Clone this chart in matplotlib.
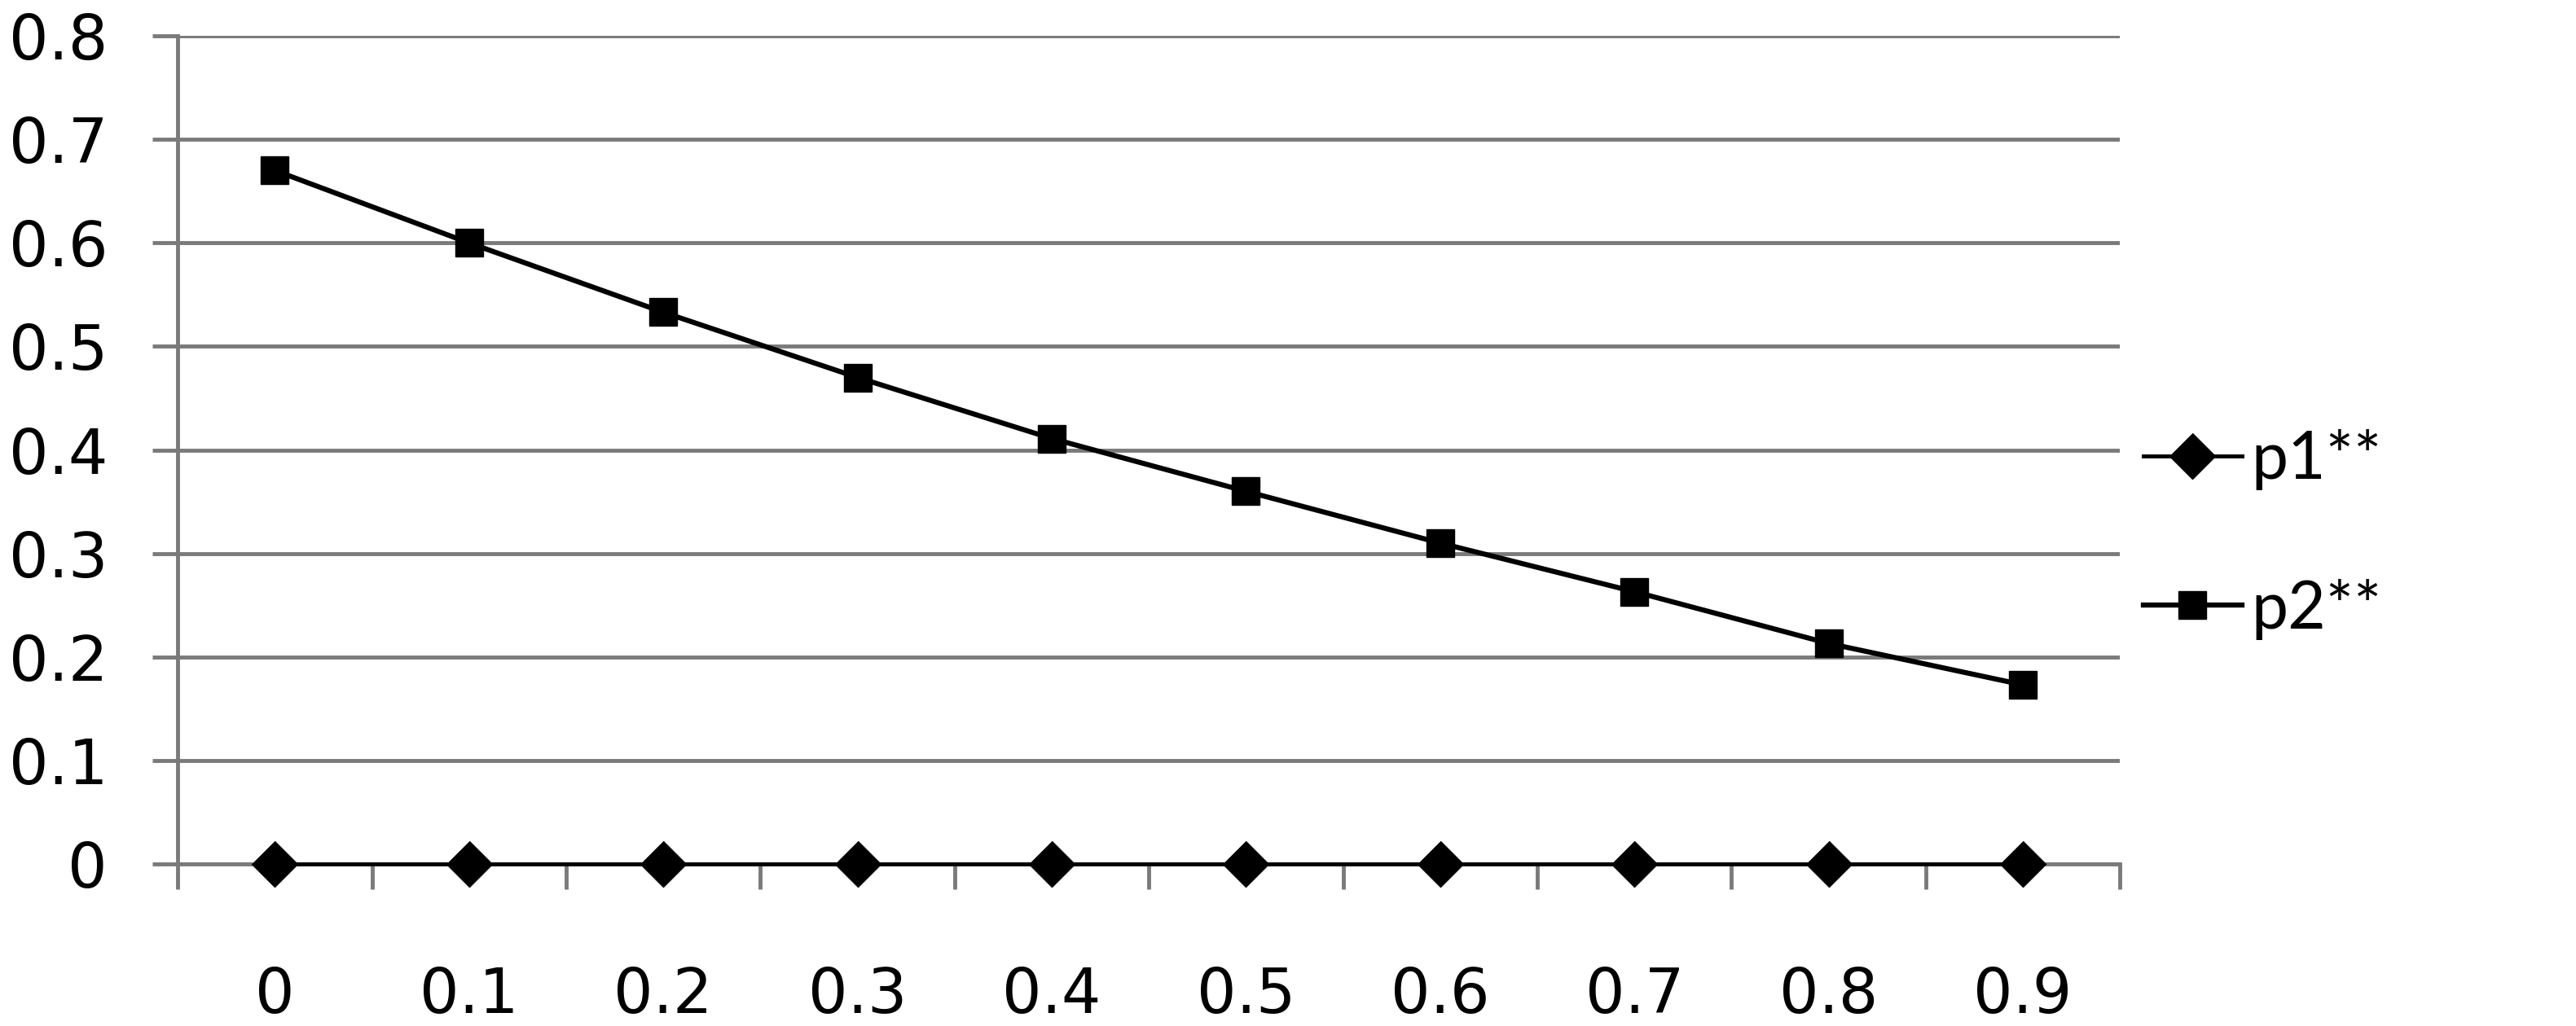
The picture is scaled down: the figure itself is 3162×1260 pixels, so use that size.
import matplotlib
matplotlib.use('Agg')
import matplotlib.pyplot as plt
import numpy as np

categories = ['0', '0.1', '0.2', '0.3', '0.4', '0.5', '0.6', '0.7', '0.8', '0.9']
p1 = [0, 0, 0, 0, 0, 0, 0, 0, 0, 0]
p2 = [0.670, 0.600, 0.533, 0.470, 0.411, 0.360, 0.310, 0.263, 0.213, 0.173]
y_ticks = [0, 0.1, 0.2, 0.3, 0.4, 0.5, 0.6, 0.7, 0.8]
y_labels = ['0', '0.1', '0.2', '0.3', '0.4', '0.5', '0.6', '0.7', '0.8']

grey = '#7a7a7a'

fig = plt.figure(figsize=(31.62, 12.6), dpi=100)
ax = fig.add_axes([0.069, 0.158, 0.754, 0.807])

x = np.arange(len(categories))
# excel style diamond
diamond = [(0, 1), (1, 0), (0, -1), (-1, 0)]
ax.plot(x, p1, color='black', lw=3.5, marker=diamond, ms=41, mew=0.5,
        label='p1**', zorder=4, clip_on=False)
ax.plot(x, p2, color='black', lw=4.5, marker='s', ms=25, mew=1,
        label='p2**', zorder=4, clip_on=False)

ax.set_xlim(-0.5, len(categories) - 0.5)
ax.set_ylim(0, 0.8)

# y axis
ax.set_yticks(y_ticks)
ax.set_yticklabels(y_labels)
ax.yaxis.grid(True, color=grey, lw=3.5)
ax.set_axisbelow(True)
ax.tick_params(axis='y', length=22, width=3.5, color=grey, pad=40, labelsize=55)

# x axis: labels under categories, tick marks between them
ax.set_xticks(x)
ax.set_xticklabels(categories)
ax.set_xticks(np.arange(-0.5, len(categories)), minor=True)
ax.tick_params(axis='x', which='major', length=0, pad=90, labelsize=55)
ax.tick_params(axis='x', which='minor', length=22, width=3.5, color=grey)

for s in ['top', 'right']:
    ax.spines[s].set_visible(False)
for s in ['left', 'bottom']:
    ax.spines[s].set_color(grey)
    ax.spines[s].set_linewidth(3.5)

ax.legend(loc='center left', bbox_to_anchor=(1.012, 0.398), frameon=False,
          handlelength=1.5, handletextpad=0.15, labelspacing=1.35,
          borderpad=0, borderaxespad=0, prop={'family': 'Lato', 'size': 58})

fig.savefig('out.png', dpi=100, facecolor='white')
